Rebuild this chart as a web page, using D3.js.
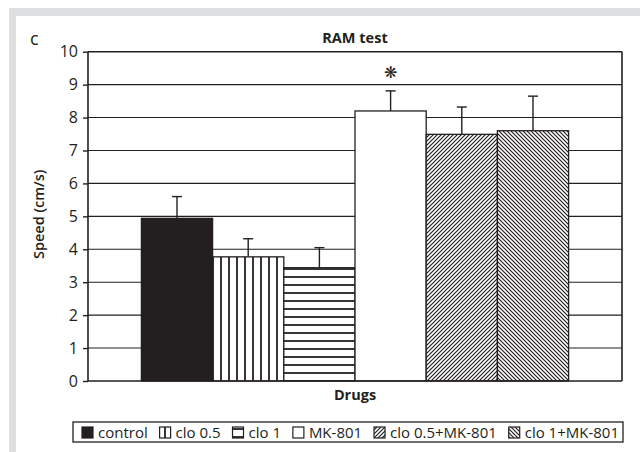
<!DOCTYPE html>
<html><head><meta charset="utf-8">
<script src="https://cdn.jsdelivr.net/npm/d3@7"></script>
<style>body{margin:0;background:#fff}svg{display:block}text{font-family:"Open Sans",sans-serif;fill:#231f20}</style>
</head><body><svg id="c" width="640" height="452"></svg>
<script>
const categories = ["control","clo 0.5","clo 1","MK-801","clo 0.5+MK-801","clo 1+MK-801"];
const means = [4.94, 3.77, 3.44, 8.20, 7.49, 7.60];
const errors = [0.66, 0.55, 0.61, 0.61, 0.83, 1.05];
const significant = [false, false, false, true, false, false];
const yTicks = [0,1,2,3,4,5,6,7,8,9,10];
const fills = ["solid","vert","horiz","none","diagR","diagL"];

const ink = "#231f20";
const svg = d3.select("#c");
// grey frame
svg.append("rect").attr("x",9).attr("y",8).attr("width",640).attr("height",452).attr("fill","#dedfe0");
svg.append("rect").attr("x",16).attr("y",16).attr("width",640).attr("height",452).attr("fill","#fff");

const defs = svg.append("defs");
function pat(id, w, h, d, sw){
  const p = defs.append("pattern").attr("id",id).attr("patternUnits","userSpaceOnUse").attr("width",w).attr("height",h);
  p.append("rect").attr("width",w).attr("height",h).attr("fill","#fff");
  p.append("path").attr("d",d).attr("stroke",ink).attr("stroke-width",sw).attr("fill","none");
}
pat("vert", 8, 8, "M5,0V8", 1.8);
pat("horiz", 8, 8, "M0,5H8", 1.8);
pat("diagR", 4, 4, "M-1,1L1,-1M0,4L4,0M3,5L5,3", 1.2);
pat("diagL", 4, 4, "M-1,3L1,5M0,0L4,4M3,-1L5,1", 1.2);
const fillOf = f => f==="solid" ? ink : f==="none" ? "#fff" : `url(#${f})`;

const L=88, R=622, T=51.7, B=381;
const x = d3.scaleBand().domain(categories).range([L,R]).paddingInner(0).paddingOuter(0.75);
const y = d3.scaleLinear().domain([0,10]).range([B,T]);

// gridlines
svg.append("g").selectAll("line").data(yTicks.filter(t=>t>0)).join("line")
  .attr("x1",L).attr("x2",R).attr("y1",d=>y(d)).attr("y2",d=>y(d))
  .attr("stroke",ink).attr("stroke-width",d=>d===10?1.6:1.1);

// bars
const data = categories.map((c,i)=>({c, m:means[i], e:errors[i], f:fills[i], s:significant[i]}));
// error bars
const eg = svg.append("g").attr("stroke",ink).attr("stroke-width",1.4);
data.forEach(d=>{
  const cx = x(d.c)+x.bandwidth()/2;
  eg.append("line").attr("x1",cx).attr("x2",cx).attr("y1",y(d.m)).attr("y2",y(d.m+d.e));
  eg.append("line").attr("x1",cx-5).attr("x2",cx+5).attr("y1",y(d.m+d.e)).attr("y2",y(d.m+d.e));
});
svg.append("g").selectAll("rect").data(data).join("rect")
  .attr("x",d=>x(d.c)).attr("width",x.bandwidth())
  .attr("y",d=>y(d.m)).attr("height",d=>B-y(d.m))
  .attr("fill",d=>fillOf(d.f)).attr("stroke",ink).attr("stroke-width",1.3);

// significance marks
svg.append("g").selectAll("text").data(data.filter(d=>d.s)).join("text")
  .attr("x",d=>x(d.c)+x.bandwidth()/2).attr("y",d=>y(d.m+d.e)-13)
  .attr("text-anchor","middle").style("font-family","DejaVu Sans").attr("font-size",16).attr("font-weight",700).text("\u274B");

// axes frame
svg.append("line").attr("x1",L).attr("x2",L).attr("y1",T).attr("y2",B).attr("stroke",ink).attr("stroke-width",1.6);
svg.append("line").attr("x1",R).attr("x2",R).attr("y1",T).attr("y2",B).attr("stroke",ink).attr("stroke-width",1.6);
svg.append("line").attr("x1",L).attr("x2",R).attr("y1",B).attr("y2",B).attr("stroke",ink).attr("stroke-width",1.6);

const ya = svg.append("g").attr("transform",`translate(${L},0)`)
  .call(d3.axisLeft(y).tickValues(yTicks).tickSize(5).tickPadding(5).tickFormat(d3.format("d")));
ya.select(".domain").remove();
ya.selectAll(".tick line").attr("stroke",ink).attr("stroke-width",1.4);
ya.selectAll(".tick text").attr("font-size",16).attr("fill",ink).style("font-family","Open Sans");

// texts
svg.append("text").attr("x",30).attr("y",45).attr("font-size",18).text("c");
svg.append("text").attr("x",(L+R)/2).attr("y",42.5).attr("text-anchor","middle").attr("font-size",14.5).attr("font-weight",700).text("RAM test");
svg.append("text").attr("transform",`translate(44,${(T+B)/2-2}) rotate(-90)`).attr("text-anchor","middle").attr("font-size",14.5).attr("font-weight",600).text("Speed (cm/s)");
svg.append("text").attr("x",(L+R)/2).attr("y",400).attr("text-anchor","middle").attr("font-size",14.5).attr("font-weight",700).text("Drugs");

// legend
const lg = svg.append("g");
lg.append("rect").attr("x",73).attr("y",422).attr("width",550).attr("height",20).attr("fill","#fff").attr("stroke",ink).attr("stroke-width",1.3);
const items = data.map(d=>{
  const sw = lg.append("rect").attr("y",427).attr("width",11).attr("height",11).attr("fill",fillOf(d.f)).attr("stroke",ink).attr("stroke-width",1.2);
  const t = lg.append("text").attr("y",437.5).attr("font-size",15).text(d.c);
  return {sw, t, w: t.node().getComputedTextLength()};
});
const startX = 82, endX = 619, swGap = 16;
const totalText = d3.sum(items, d=>d.w);
const gap = Math.max(6, (endX - startX - items.length*swGap - totalText)/(items.length-1));
let lx = startX;
items.forEach(it=>{
  it.sw.attr("x",lx);
  it.t.attr("x",lx+swGap);
  lx += swGap + it.w + gap;
});
</script></body></html>
